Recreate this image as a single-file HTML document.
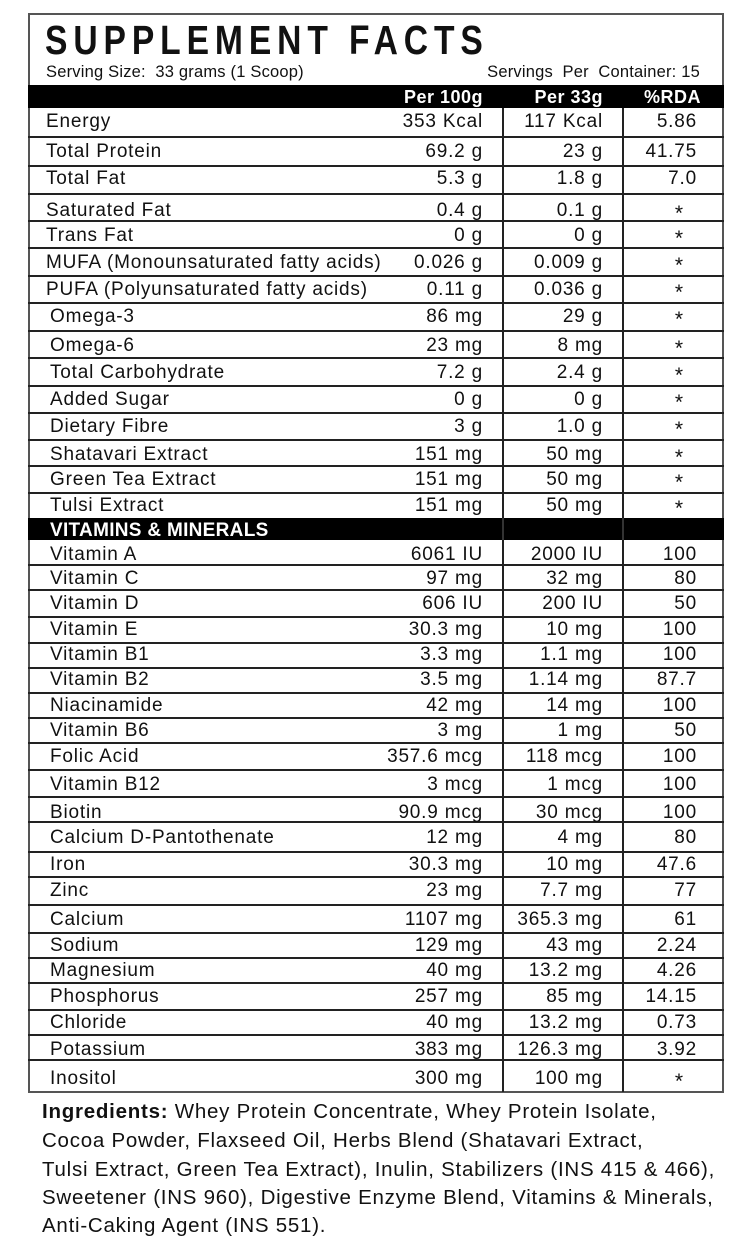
<!DOCTYPE html>
<html>
<head>
<meta charset="utf-8">
<style>
html,body{margin:0;padding:0;background:#fff;}
body{width:751px;height:1240px;position:relative;overflow:hidden;font-family:"Liberation Sans",Arial,sans-serif;color:#111;}
.box{position:absolute;left:28px;top:13px;width:696px;height:1080px;border:2px solid #555;box-sizing:border-box;}
.band{position:absolute;left:28px;width:696px;background:#000;}
.h{position:absolute;left:28px;width:696px;height:2px;background:#222;}
.v{position:absolute;width:2px;background:#222;}
.title{position:absolute;left:45px;top:20px;font-size:41px;line-height:41px;font-weight:bold;letter-spacing:7.2px;transform:scaleX(0.82);transform-origin:0 0;white-space:nowrap;color:#111;}
.sub{position:absolute;top:64px;font-size:16.5px;line-height:16px;white-space:nowrap;color:#111;letter-spacing:0.2px;}
.hd{position:absolute;top:88px;font-size:18px;line-height:18px;font-weight:bold;color:#fff;letter-spacing:0.5px;white-space:nowrap;}
.vm{position:absolute;left:50px;top:521px;font-size:19px;line-height:19px;font-weight:bold;color:#fff;letter-spacing:0.3px;white-space:nowrap;}
.r{position:absolute;left:0;width:751px;height:19px;font-size:19px;line-height:19px;letter-spacing:0.8px;}
.r span{position:absolute;top:0;white-space:nowrap;}
.l{left:50px;}
.l2{left:46px;}
.a{right:268px;}
.b{right:148px;}
.c{right:54px;}
.r span.s{left:670px;width:18px;text-align:center;top:3px;font-size:21px;letter-spacing:0;}
.ing{position:absolute;left:42px;font-size:20.5px;line-height:20px;letter-spacing:0.75px;white-space:nowrap;color:#111;}
</style>
</head>
<body>
<div class="box"></div>
<div class="title">SUPPLEMENT FACTS</div>
<div class="sub" style="left:46px;">Serving Size:&nbsp; 33 grams (1 Scoop)</div>
<div class="sub" style="right:51px;">Servings&nbsp; Per&nbsp; Container: 15</div>

<div class="band" style="top:85px;height:23px;"></div>
<div class="hd" style="right:268px;">Per 100g</div>
<div class="hd" style="right:148px;">Per 33g</div>
<div class="hd" style="right:50px;">%RDA</div>

<div class="band" style="top:518px;height:22px;"></div>
<div class="vm">VITAMINS &amp; MINERALS</div>

<!-- horizontal lines -->
<div class="h" style="top:136px"></div>
<div class="h" style="top:165px"></div>
<div class="h" style="top:193px"></div>
<div class="h" style="top:220px"></div>
<div class="h" style="top:247px"></div>
<div class="h" style="top:275px"></div>
<div class="h" style="top:302px"></div>
<div class="h" style="top:330px"></div>
<div class="h" style="top:357px"></div>
<div class="h" style="top:385px"></div>
<div class="h" style="top:412px"></div>
<div class="h" style="top:439px"></div>
<div class="h" style="top:465px"></div>
<div class="h" style="top:492px"></div>
<div class="h" style="top:564px"></div>
<div class="h" style="top:589px"></div>
<div class="h" style="top:616px"></div>
<div class="h" style="top:642px"></div>
<div class="h" style="top:667px"></div>
<div class="h" style="top:692px"></div>
<div class="h" style="top:717px"></div>
<div class="h" style="top:742px"></div>
<div class="h" style="top:769px"></div>
<div class="h" style="top:796px"></div>
<div class="h" style="top:821px"></div>
<div class="h" style="top:851px"></div>
<div class="h" style="top:876px"></div>
<div class="h" style="top:904px"></div>
<div class="h" style="top:932px"></div>
<div class="h" style="top:957px"></div>
<div class="h" style="top:982px"></div>
<div class="h" style="top:1009px"></div>
<div class="h" style="top:1034px"></div>
<div class="h" style="top:1059px"></div>

<!-- vertical dividers -->
<div class="v" style="left:502px;top:108px;height:410px"></div>
<div class="v" style="left:622px;top:108px;height:410px"></div>
<div class="v" style="left:502px;top:518px;height:22px;background:#333"></div>
<div class="v" style="left:622px;top:518px;height:22px;background:#333"></div>
<div class="v" style="left:502px;top:540px;height:552px"></div>
<div class="v" style="left:622px;top:540px;height:552px"></div>

<!-- top section rows -->
<div class="r" style="top:112px"><span class="l2">Energy</span><span class="a">353 Kcal</span><span class="b">117 Kcal</span><span class="c">5.86</span></div>
<div class="r" style="top:142px"><span class="l2">Total Protein</span><span class="a">69.2 g</span><span class="b">23 g</span><span class="c">41.75</span></div>
<div class="r" style="top:169px"><span class="l2">Total Fat</span><span class="a">5.3 g</span><span class="b">1.8 g</span><span class="c">7.0</span></div>
<div class="r" style="top:201px"><span class="l2">Saturated Fat</span><span class="a">0.4 g</span><span class="b">0.1 g</span><span class="s">*</span></div>
<div class="r" style="top:226px"><span class="l2">Trans Fat</span><span class="a">0 g</span><span class="b">0 g</span><span class="s">*</span></div>
<div class="r" style="top:253px"><span class="l2">MUFA (Monounsaturated fatty acids)</span><span class="a">0.026 g</span><span class="b">0.009 g</span><span class="s">*</span></div>
<div class="r" style="top:280px"><span class="l2">PUFA (Polyunsaturated fatty acids)</span><span class="a">0.11 g</span><span class="b">0.036 g</span><span class="s">*</span></div>
<div class="r" style="top:307px"><span class="l">Omega-3</span><span class="a">86 mg</span><span class="b">29 g</span><span class="s">*</span></div>
<div class="r" style="top:336px"><span class="l">Omega-6</span><span class="a">23 mg</span><span class="b">8 mg</span><span class="s">*</span></div>
<div class="r" style="top:363px"><span class="l">Total Carbohydrate</span><span class="a">7.2 g</span><span class="b">2.4 g</span><span class="s">*</span></div>
<div class="r" style="top:390px"><span class="l">Added Sugar</span><span class="a">0 g</span><span class="b">0 g</span><span class="s">*</span></div>
<div class="r" style="top:417px"><span class="l">Dietary Fibre</span><span class="a">3 g</span><span class="b">1.0 g</span><span class="s">*</span></div>
<div class="r" style="top:445px"><span class="l">Shatavari Extract</span><span class="a">151 mg</span><span class="b">50 mg</span><span class="s">*</span></div>
<div class="r" style="top:470px"><span class="l">Green Tea Extract</span><span class="a">151 mg</span><span class="b">50 mg</span><span class="s">*</span></div>
<div class="r" style="top:496px"><span class="l">Tulsi Extract</span><span class="a">151 mg</span><span class="b">50 mg</span><span class="s">*</span></div>

<!-- vitamins -->
<div class="r" style="top:545px"><span class="l">Vitamin A</span><span class="a">6061 IU</span><span class="b">2000 IU</span><span class="c">100</span></div>
<div class="r" style="top:569px"><span class="l">Vitamin C</span><span class="a">97 mg</span><span class="b">32 mg</span><span class="c">80</span></div>
<div class="r" style="top:594px"><span class="l">Vitamin D</span><span class="a">606 IU</span><span class="b">200 IU</span><span class="c">50</span></div>
<div class="r" style="top:620px"><span class="l">Vitamin E</span><span class="a">30.3 mg</span><span class="b">10 mg</span><span class="c">100</span></div>
<div class="r" style="top:645px"><span class="l">Vitamin B1</span><span class="a">3.3 mg</span><span class="b">1.1 mg</span><span class="c">100</span></div>
<div class="r" style="top:670px"><span class="l">Vitamin B2</span><span class="a">3.5 mg</span><span class="b">1.14 mg</span><span class="c">87.7</span></div>
<div class="r" style="top:696px"><span class="l">Niacinamide</span><span class="a">42 mg</span><span class="b">14 mg</span><span class="c">100</span></div>
<div class="r" style="top:721px"><span class="l">Vitamin B6</span><span class="a">3 mg</span><span class="b">1 mg</span><span class="c">50</span></div>
<div class="r" style="top:747px"><span class="l">Folic Acid</span><span class="a">357.6 mcg</span><span class="b">118 mcg</span><span class="c">100</span></div>
<div class="r" style="top:775px"><span class="l">Vitamin B12</span><span class="a">3 mcg</span><span class="b">1 mcg</span><span class="c">100</span></div>
<div class="r" style="top:803px"><span class="l">Biotin</span><span class="a">90.9 mcg</span><span class="b">30 mcg</span><span class="c">100</span></div>
<div class="r" style="top:828px"><span class="l">Calcium D-Pantothenate</span><span class="a">12 mg</span><span class="b">4 mg</span><span class="c">80</span></div>
<div class="r" style="top:855px"><span class="l">Iron</span><span class="a">30.3 mg</span><span class="b">10 mg</span><span class="c">47.6</span></div>
<div class="r" style="top:881px"><span class="l">Zinc</span><span class="a">23 mg</span><span class="b">7.7 mg</span><span class="c">77</span></div>
<div class="r" style="top:910px"><span class="l">Calcium</span><span class="a">1107 mg</span><span class="b">365.3 mg</span><span class="c">61</span></div>
<div class="r" style="top:936px"><span class="l">Sodium</span><span class="a">129 mg</span><span class="b">43 mg</span><span class="c">2.24</span></div>
<div class="r" style="top:961px"><span class="l">Magnesium</span><span class="a">40 mg</span><span class="b">13.2 mg</span><span class="c">4.26</span></div>
<div class="r" style="top:987px"><span class="l">Phosphorus</span><span class="a">257 mg</span><span class="b">85 mg</span><span class="c">14.15</span></div>
<div class="r" style="top:1013px"><span class="l">Chloride</span><span class="a">40 mg</span><span class="b">13.2 mg</span><span class="c">0.73</span></div>
<div class="r" style="top:1040px"><span class="l">Potassium</span><span class="a">383 mg</span><span class="b">126.3 mg</span><span class="c">3.92</span></div>
<div class="r" style="top:1069px"><span class="l">Inositol</span><span class="a">300 mg</span><span class="b">100 mg</span><span class="s">*</span></div>

<!-- ingredients -->
<div class="ing" style="top:1102px"><b>Ingredients:</b> Whey Protein Concentrate, Whey Protein Isolate,</div>
<div class="ing" style="top:1131px">Cocoa Powder, Flaxseed Oil, Herbs Blend (Shatavari Extract,</div>
<div class="ing" style="top:1160px">Tulsi Extract, Green Tea Extract), Inulin, Stabilizers (INS 415 &amp; 466),</div>
<div class="ing" style="top:1188px">Sweetener (INS 960), Digestive Enzyme Blend, Vitamins &amp; Minerals,</div>
<div class="ing" style="top:1216px">Anti-Caking Agent (INS 551).</div>
</body>
</html>
